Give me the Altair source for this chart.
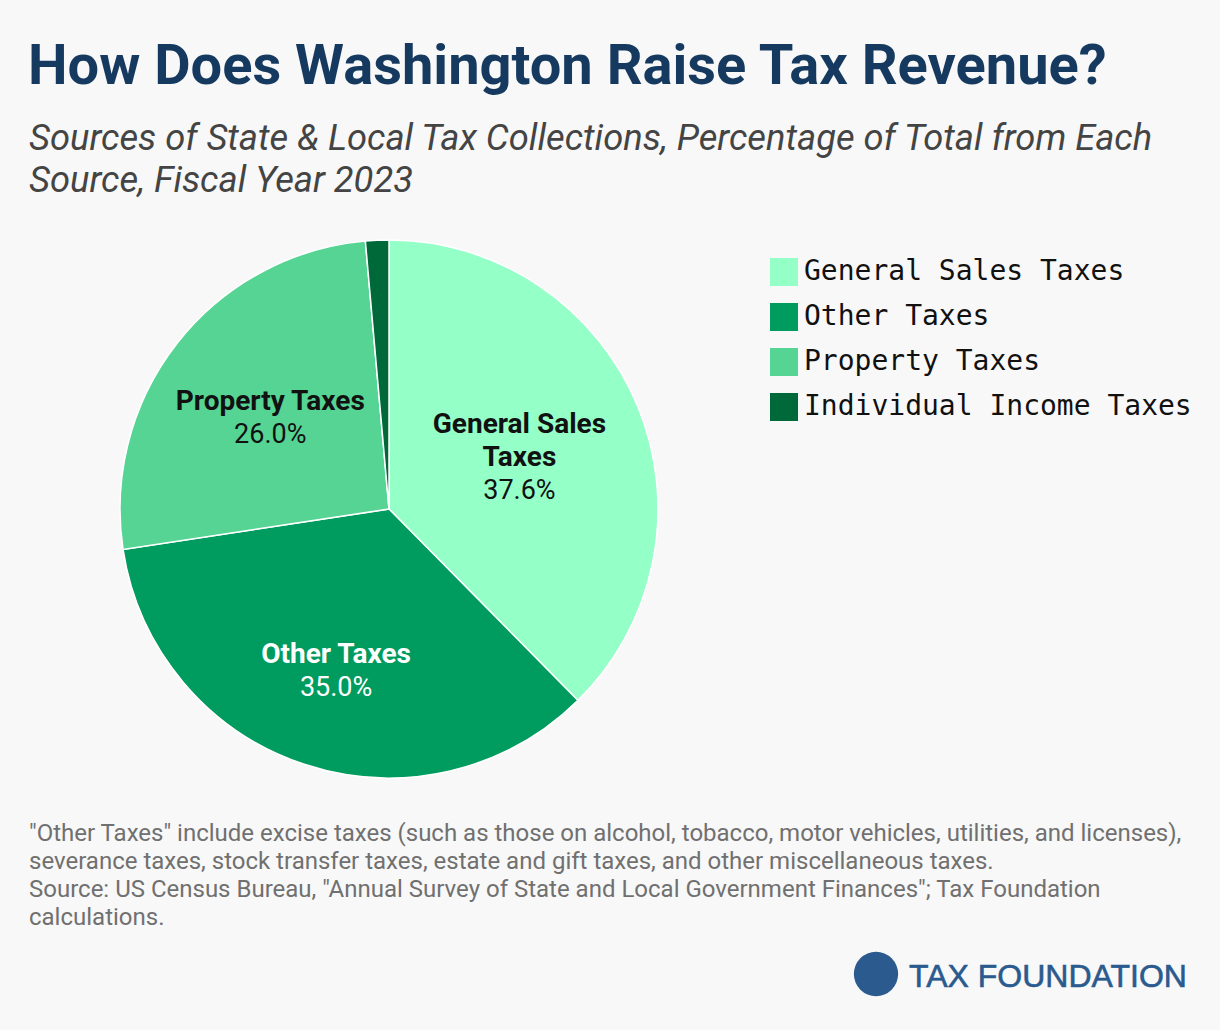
import altair as alt
import pandas as pd

# ---- data ----
categories = ["General Sales Taxes", "Other Taxes", "Property Taxes", "Individual Income Taxes"]
shares = [37.6, 35.0, 26.0, 1.4]
slice_names = ["General Sales\nTaxes", "Other Taxes", "Property Taxes", ""]
slice_pcts = ["37.6%", "35.0%", "26.0%", ""]
colors = ["#94FFC6", "#009B5E", "#55D494", "#00693A"]

title_text = ["How Does Washington Raise Tax Revenue?"]
subtitle_lines = [
    "Sources of State & Local Tax Collections, Percentage of Total from Each",
    "Source, Fiscal Year 2023",
]
footnote_lines = [
    "\"Other Taxes\" include excise taxes (such as those on alcohol, tobacco, motor vehicles, utilities, and licenses),",
    "severance taxes, stock transfer taxes, estate and gift taxes, and other miscellaneous taxes.",
    "Source: US Census Bureau, \"Annual Survey of State and Local Government Finances\"; Tax Foundation",
    "calculations.",
]
logo_text = ["TAX FOUNDATION"]

pie_df = pd.DataFrame({
    "idx": list(range(len(categories))),
    "cat": categories,
    "share": shares,
    "name": slice_names,
    "pct": slice_pcts,
})

CX, CY, R = 389, 509, 269
LINE_H = 33
LABEL_SHIFT = 3
# label placement (distance of each label block from the pie centre)
label_radius = {"General Sales Taxes": 141, "Other Taxes": 168, "Property Taxes": 151}
label_color = {"General Sales Taxes": "#111111", "Other Taxes": "#FFFFFF", "Property Taxes": "#111111"}

color_scale = alt.Scale(domain=categories, range=colors)

arcs = alt.Chart(pie_df).mark_arc(outerRadius=R, stroke="white", strokeWidth=1.5).encode(
    theta=alt.Theta("share:Q", stack=True),
    order=alt.Order("idx:Q"),
    color=alt.Color(
        "cat:N",
        scale=color_scale,
        sort=categories,
        legend=alt.Legend(
            title=None,
            orient="none",
            legendX=770,
            legendY=258,
            symbolType="square",
            symbolSize=784,
            symbolStrokeWidth=0,
            labelFont="DejaVu Sans Mono",
            labelFontSize=28,
            labelColor="#111111",
            labelOffset=6,
            rowPadding=17,
            labelLimit=500,
        ),
    ),
    x=alt.value(CX),
    y=alt.value(CY),
)


def label_layer(cat, expr, radius, dy, bold, color):
    return alt.Chart(pie_df).transform_calculate(
        lbl=f"datum.cat === '{cat}' ? {expr} : ''"
    ).mark_text(
        radius=radius, dy=dy, baseline="middle", align="center", font="Roboto",
        fontWeight="bold" if bold else "normal", fontSize=28 if bold else 27, color=color,
    ).encode(
        theta=alt.Theta("share:Q", stack=True),
        order=alt.Order("idx:Q"),
        text="lbl:N",
        x=alt.value(CX),
        y=alt.value(CY),
    )


label_layers = []
for c, nm in zip(categories, slice_names):
    if not nm:
        continue
    n_name = len(nm.split("\n"))
    total = n_name + 1
    for i in range(n_name):
        dy = (i - (total - 1) / 2) * LINE_H + LABEL_SHIFT
        label_layers.append(label_layer(c, f"split(datum.name, '\\n')[{i}]", label_radius[c], dy, True, label_color[c]))
    dy = (n_name - (total - 1) / 2) * LINE_H + LABEL_SHIFT
    label_layers.append(label_layer(c, "datum.pct", label_radius[c], dy, False, label_color[c]))

title = alt.Chart(pd.DataFrame({"t": title_text})).mark_text(
    font="Roboto", fontWeight="bold", fontSize=56, color="#163A5F",
    align="left", baseline="alphabetic",
).encode(text="t:N", x=alt.value(28), y=alt.value(84))

subtitle = alt.Chart(pd.DataFrame({"t": ["\n".join(subtitle_lines)]})).mark_text(
    font="Roboto", fontStyle="italic", fontSize=36.3, color="#444444",
    align="left", baseline="alphabetic", lineBreak="\n", lineHeight=42,
).encode(text="t:N", x=alt.value(29), y=alt.value(150))

footnote = alt.Chart(pd.DataFrame({"t": ["\n".join(footnote_lines)]})).mark_text(
    font="Roboto", fontSize=24, color="#707070",
    align="left", baseline="alphabetic", lineBreak="\n", lineHeight=28,
).encode(text="t:N", x=alt.value(29), y=alt.value(841))

logo_circle = alt.Chart(pd.DataFrame({"t": logo_text})).mark_circle(
    color="#2A5A8E", opacity=1, size=1960,
).encode(x=alt.value(876), y=alt.value(974))

logo = alt.Chart(pd.DataFrame({"t": logo_text})).mark_text(
    font="Liberation Sans", fontSize=32, color="#2A5A8E",
    align="left", baseline="alphabetic", stroke="#2A5A8E", strokeWidth=0.6,
).encode(text="t:N", x=alt.value(909), y=alt.value(987))

chart = alt.layer(arcs, *label_layers, title, subtitle, footnote, logo_circle, logo).properties(
    width=1220, height=1030,
    autosize=alt.AutoSizeParams(type="none"),
    padding=0,
    background="#F8F8F8",
).configure_view(stroke=None)

chart.save("out.html", embed_options={"renderer": "svg", "actions": False})
